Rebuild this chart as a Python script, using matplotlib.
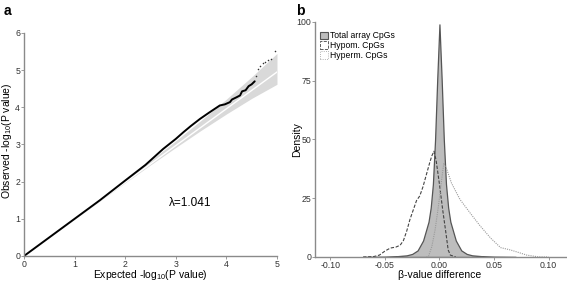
import matplotlib
matplotlib.use("Agg")
import matplotlib.pyplot as plt
from matplotlib.patches import Patch

plt.rcParams['font.family'] = ['Liberation Sans', 'DejaVu Sans']
plt.rcParams['mathtext.fontset'] = 'custom'
plt.rcParams['mathtext.rm'] = 'Liberation Sans'

# ---- Panel a data (QQ plot) ----
obs_x = [0.0, 0.5, 1.0, 1.5, 2.0, 2.4, 2.75, 3.0, 3.15, 3.3, 3.48, 3.65, 3.87, 3.97,
         4.07, 4.11, 4.2, 4.27, 4.31, 4.38, 4.44, 4.5, 4.56]
obs_y = [0.0, 0.5, 1.0, 1.5, 2.03, 2.45, 2.88, 3.15, 3.33, 3.5, 3.69, 3.85, 4.05, 4.08,
         4.14, 4.21, 4.27, 4.32, 4.43, 4.46, 4.57, 4.62, 4.7]
tail_x = [4.58, 4.62, 4.66, 4.72, 4.77, 4.82, 4.88, 4.97]
tail_y = [4.84, 5.02, 5.11, 5.2, 5.23, 5.26, 5.3, 5.51]
band_x = [0, 1, 2, 2.5, 3, 3.5, 4, 4.5, 5]
band_lo = [0, 0.99, 1.97, 2.45, 2.92, 3.38, 3.82, 4.24, 4.62]
band_hi = [0, 1.01, 2.04, 2.57, 3.1, 3.65, 4.22, 4.82, 5.45]
exp_x = [0, 5]
exp_y = [0, 4.95]
lambda_text = "λ=1.041"

# ---- Panel b data (densities) ----
total_x = [-0.07, -0.05, -0.04, -0.03, -0.025, -0.02, -0.015, -0.01, -0.008, -0.006,
           -0.004, -0.002, 0.0, 0.002, 0.004, 0.006, 0.008, 0.01, 0.015, 0.02, 0.025,
           0.03, 0.04, 0.05, 0.07]
total_y = [0, 0.1, 0.3, 0.7, 1.3, 2.8, 7.0, 15, 21, 31, 50, 76, 99, 76, 50, 31, 21, 15,
           7.0, 2.8, 1.3, 0.7, 0.3, 0.1, 0]
hypo_x = [-0.07, -0.06, -0.055, -0.05, -0.045, -0.04, -0.036, -0.033, -0.03, -0.027,
          -0.024, -0.021, -0.018, -0.015, -0.012, -0.009, -0.007, -0.005, -0.003, 0.0,
          0.003, 0.006, 0.008, 0.01, 0.015]
hypo_y = [0, 0.2, 0.8, 2.5, 3.8, 4.2, 5, 7, 11, 16, 20, 24, 26, 30, 35, 40, 43, 45, 41,
          31, 20, 10, 3, 0.8, 0]
hyper_x = [-0.012, -0.01, -0.007, -0.004, -0.001, 0.002, 0.004, 0.0066, 0.011, 0.0188,
           0.028, 0.037, 0.047, 0.056, 0.065, 0.072, 0.08, 0.09, 0.1]
hyper_y = [0, 0.3, 4.4, 11.5, 21.4, 32.8, 40, 37.5, 31.5, 24.5, 18.8, 13.4, 8, 4, 3, 2,
           0.8, 0.1, 0]
legend_labels = ["Total array CpGs", "Hypom. CpGs", "Hyperm. CpGs"]

fig = plt.figure(figsize=(5.67, 2.82), dpi=100)

spine_c = '#8a8a8a'
tick_c = '#333333'


def style(ax):
    for s in ['top', 'right']:
        ax.spines[s].set_visible(False)
    for s in ['left', 'bottom']:
        ax.spines[s].set_color(spine_c)
        ax.spines[s].set_linewidth(1.0)
    ax.tick_params(length=2, width=0.6, color=spine_c, labelsize=6.3,
                   labelcolor=tick_c, pad=0.8)


# Panel a
ax1 = fig.add_axes([0.0423, 0.0922, 0.4462, 0.7908])
style(ax1)
ax1.fill_between(band_x, band_lo, band_hi, color='#d9d9d9', lw=0)
ax1.plot(exp_x, exp_y, color='white', lw=1.0)
ax1.plot(obs_x, obs_y, color='black', lw=1.4, solid_capstyle='round')
ax1.scatter(tail_x, tail_y, s=1.3, color='#333333', clip_on=False, zorder=5, lw=0)
ax1.set_xlim(0, 5)
ax1.set_ylim(0, 6)
ax1.set_xticks([0, 1, 2, 3, 4, 5])
ax1.set_yticks([0, 1, 2, 3, 4, 5, 6])
ax1.text(3.28, 1.43, lambda_text, fontsize=8.5, ha='center', va='center')

fig.text(150 / 567, 1 - 275 / 282, 'Expected -log$_{10}$(P value)', fontsize=7.5,
         ha='center', va='center')
fig.text(7.5 / 567, 1 - 141 / 282, 'Observed -log$_{10}$(P value)', fontsize=7.5,
         ha='center', va='center', rotation=90)

# Panel b
ax2 = fig.add_axes([0.5556, 0.0887, 0.4427, 0.8333])
style(ax2)
ax2.fill_between(total_x, 0, total_y, facecolor='#bdbdbd', edgecolor='#555555', lw=0.9)
ax2.plot(hypo_x, hypo_y, color='#444444', lw=0.8, ls=(0, (3, 1.5)))
ax2.plot(hyper_x, hyper_y, color='#9a9a9a', lw=0.8, ls=(0, (1, 1)))
ax2.set_xlim(-0.114, 0.116)
ax2.set_ylim(0, 100)
ax2.set_xticks([-0.10, -0.05, 0.0, 0.05, 0.10])
ax2.set_xticklabels(['-0.10', '-0.05', '0.00', '0.05', '0.10'])
ax2.set_yticks([0, 25, 50, 75, 100])

fig.text(440 / 567, 1 - 275 / 282, 'β-value difference', fontsize=7.5,
         ha='center', va='center')
fig.text(297 / 567, 1 - 140 / 282, 'Density', fontsize=7.5,
         ha='center', va='center', rotation=90)

handles = [Patch(facecolor='#bdbdbd', edgecolor='#555555', lw=0.8),
           Patch(facecolor='white', edgecolor='#444444', lw=0.6, ls='--'),
           Patch(facecolor='white', edgecolor='#9a9a9a', lw=0.6, ls=':')]
ax2.legend(handles, legend_labels, loc='upper left', bbox_to_anchor=(0.02, 0.96),
           frameon=False, fontsize=6.2, handlelength=0.9, handleheight=1.0,
           labelspacing=0.1, handletextpad=0.25, borderpad=0, borderaxespad=0)

fig.text(0.006, 0.985, 'a', fontsize=10, fontweight='bold', va='top', ha='left')
fig.text(0.523, 0.985, 'b', fontsize=10, fontweight='bold', va='top', ha='left')

fig.savefig('out.png', dpi=100)
